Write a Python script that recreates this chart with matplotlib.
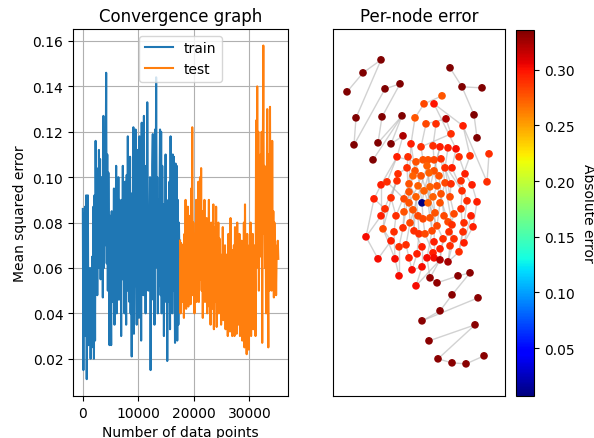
import numpy as np
import matplotlib
matplotlib.use("Agg")
import matplotlib.pyplot as plt
from matplotlib.collections import LineCollection

# Convergence data: one MSE value every 100 data points
train_step = 100
train_mse = [
    0.086, 0.015, 0.084, 0.045, 0.087, 0.030, 0.092, 0.011, 0.060, 0.092,
    0.026, 0.055, 0.040, 0.060, 0.020, 0.050, 0.025, 0.065, 0.035, 0.087,
    0.020, 0.092, 0.028, 0.116, 0.070, 0.104, 0.048, 0.097, 0.060, 0.112,
    0.070, 0.108, 0.055, 0.100, 0.072, 0.094, 0.047, 0.127, 0.060, 0.112,
    0.070, 0.090, 0.146, 0.062, 0.110, 0.050, 0.102, 0.070, 0.026, 0.083,
    0.060, 0.026, 0.085, 0.045, 0.075, 0.060, 0.095, 0.035, 0.083, 0.070,
    0.105, 0.040, 0.098, 0.055, 0.100, 0.046, 0.090, 0.063, 0.085, 0.030,
    0.090, 0.055, 0.105, 0.060, 0.083, 0.040, 0.098, 0.065, 0.035, 0.101,
    0.050, 0.118, 0.060, 0.088, 0.045, 0.109, 0.040, 0.068, 0.021, 0.093,
    0.055, 0.122, 0.031, 0.105, 0.052, 0.121, 0.070, 0.035, 0.112, 0.060,
    0.090, 0.038, 0.118, 0.055, 0.095, 0.028, 0.124, 0.065, 0.100, 0.048,
    0.127, 0.055, 0.090, 0.040, 0.105, 0.062, 0.133, 0.085, 0.050, 0.080,
    0.060, 0.100, 0.015, 0.080, 0.046, 0.105, 0.119, 0.060, 0.095, 0.035,
    0.121, 0.060, 0.144, 0.075, 0.100, 0.040, 0.090, 0.052, 0.085, 0.121,
    0.048, 0.120, 0.040, 0.105, 0.062, 0.088, 0.030, 0.080, 0.055, 0.110,
    0.045, 0.085, 0.019, 0.070, 0.090, 0.045, 0.098, 0.033, 0.118, 0.060,
    0.095, 0.040, 0.110, 0.050, 0.109, 0.065, 0.027, 0.106, 0.045, 0.105,
    0.028, 0.090, 0.035, 0.080, 0.065, 0.072,
]
test_mse = [
    0.072, 0.040, 0.071, 0.052, 0.070,
    0.045, 0.066, 0.038, 0.075, 0.050, 0.090, 0.042, 0.080, 0.060, 0.087,
    0.043, 0.083, 0.050, 0.078, 0.044, 0.095, 0.055, 0.122, 0.048, 0.080,
    0.060, 0.040, 0.075, 0.050, 0.090, 0.045, 0.085, 0.055, 0.098, 0.045,
    0.070, 0.100, 0.055, 0.104, 0.050, 0.085, 0.038, 0.075, 0.060, 0.090,
    0.045, 0.070, 0.052, 0.082, 0.040, 0.076, 0.060, 0.090, 0.043, 0.065,
    0.035, 0.080, 0.050, 0.072, 0.042, 0.088, 0.033, 0.060, 0.078, 0.045,
    0.087, 0.034, 0.070, 0.055, 0.080, 0.040, 0.073, 0.050, 0.066, 0.035,
    0.062, 0.045, 0.078, 0.037, 0.060, 0.048, 0.070, 0.033, 0.058, 0.042,
    0.066, 0.030, 0.075, 0.045, 0.060, 0.032, 0.082, 0.040, 0.068, 0.030,
    0.055, 0.038, 0.070, 0.030, 0.078, 0.045, 0.062, 0.031, 0.080, 0.040,
    0.065, 0.035, 0.075, 0.030, 0.058, 0.042, 0.072, 0.028, 0.060, 0.038,
    0.080, 0.025, 0.088, 0.045, 0.060, 0.022, 0.075, 0.030, 0.055, 0.024,
    0.070, 0.040, 0.080, 0.030, 0.065, 0.050, 0.075, 0.033, 0.062, 0.045,
    0.070, 0.030, 0.125, 0.060, 0.140, 0.070, 0.120, 0.050, 0.095, 0.065,
    0.110, 0.070, 0.120, 0.027, 0.100, 0.158, 0.075, 0.105, 0.060, 0.090,
    0.040, 0.085, 0.130, 0.065, 0.025, 0.110, 0.050, 0.131, 0.060, 0.095,
    0.050, 0.116, 0.055, 0.085, 0.047, 0.080, 0.060, 0.070, 0.048, 0.066,
    0.065, 0.072, 0.064,
]

# Graph layout (layout units, y grows downward) and per-node absolute error
node_x = [381, 363, 347, 385, 400, 356, 382, 402, 354, 378, 391, 373, 403, 450, 462, 482, 474, 477, 446,
          442, 424, 434, 415, 426, 436, 463, 451, 489, 487, 411, 421, 433, 440, 448, 456, 397, 408, 459, 470,
          416, 423, 428, 434, 441, 407, 415, 427, 434, 445, 452, 465, 398, 413, 421, 429, 439, 397, 381, 387,
          409, 418, 430, 437, 445, 451, 461, 472, 409, 424, 441, 462, 374, 391, 404, 416, 433, 450, 422, 409,
          428, 440, 467, 477, 385, 381, 396, 404, 413, 418, 423, 430, 435, 444, 454, 461, 471, 410, 437, 448,
          452, 464, 473, 383, 403, 394, 414, 419, 425, 432, 449, 463, 366, 391, 434, 443, 454, 464, 399, 406,
          422, 440, 450, 459, 417, 433, 378, 395, 409, 427, 434, 440, 448, 412, 422, 399, 416, 430, 437, 458,
          470, 452, 478, 440, 422, 475, 429, 438, 452, 466, 484]
node_y = [61, 74, 93, 90, 85, 119, 118, 117, 146, 144, 145, 161, 137, 69, 88, 89, 116, 139, 120,
          97, 105, 105, 119, 125, 125, 127, 135, 155, 183, 145, 148, 147, 148, 149, 150, 158, 158, 158, 157,
          163, 161, 161, 161, 160, 169, 172, 167, 172, 169, 169, 175, 175, 177, 177, 174, 177, 182, 186, 183,
          185, 187, 188, 187, 184, 185, 182, 186, 193, 192, 195, 192, 200, 199, 200, 198, 198, 198, 204, 204,
          204, 204, 202, 203, 210, 217, 217, 213, 211, 217, 220, 219, 214, 217, 215, 210, 217, 224, 227, 223,
          226, 224, 228, 230, 229, 233, 232, 235, 235, 232, 233, 233, 238, 242, 243, 240, 240, 244, 248, 246,
          248, 250, 247, 253, 255, 254, 260, 260, 259, 259, 259, 261, 263, 271, 268, 277, 287, 279, 284, 277,
          274, 296, 299, 312, 322, 326, 342, 360, 364, 365, 357]
node_error = [0.336, 0.336, 0.336, 0.336, 0.336, 0.336, 0.336, 0.336, 0.336, 0.336, 0.336, 0.336, 0.322,
              0.336, 0.336, 0.336, 0.336, 0.336, 0.322,
              0.276, 0.282, 0.300, 0.276, 0.282, 0.290, 0.296, 0.290, 0.290, 0.290, 0.296, 0.290, 0.290,
              0.296, 0.296, 0.302, 0.296, 0.290, 0.290, 0.290,
              0.277, 0.277, 0.277, 0.282, 0.290, 0.290, 0.277, 0.272, 0.277, 0.290, 0.296, 0.296, 0.290,
              0.272, 0.277, 0.272, 0.277, 0.290, 0.296, 0.290, 0.277, 0.272, 0.272, 0.277, 0.282, 0.290,
              0.290, 0.296, 0.277, 0.272, 0.277, 0.290, 0.296, 0.290, 0.282, 0.272, 0.272, 0.282, 0.007,
              0.277, 0.272, 0.277, 0.290, 0.296, 0.290, 0.296, 0.290, 0.277, 0.277, 0.282, 0.282, 0.277,
              0.277, 0.282, 0.282, 0.290, 0.296, 0.282, 0.282, 0.282, 0.290, 0.290, 0.296, 0.282, 0.290,
              0.290, 0.290, 0.290, 0.282, 0.282, 0.290, 0.290, 0.302, 0.296, 0.296, 0.290, 0.290, 0.296,
              0.290, 0.290, 0.296, 0.296, 0.290, 0.290, 0.296, 0.296, 0.302, 0.302, 0.296, 0.302, 0.302,
              0.322, 0.325, 0.302, 0.302, 0.302, 0.302, 0.330, 0.330, 0.333, 0.333, 0.333, 0.333, 0.333,
              0.333, 0.333, 0.333, 0.333, 0.333, 0.333, 0.333]

# Edges as pairs of node ids (ids start at 1)
edges = [
    (1, 2), (2, 3), (1, 6), (6, 9), (9, 4), (4, 5), (5, 7), (7, 10), (8, 12), (8, 11), (8, 10),
    (11, 13), (13, 36), (14, 15), (15, 16), (15, 17), (17, 18), (20, 21), (21, 23), (22, 26),
    (22, 35), (19, 24), (26, 29), (26, 39), (28, 29), (27, 19), (27, 31), (23, 30), (24, 31), (25, 32),
    (36, 40), (36, 59), (37, 45), (30, 46), (31, 41), (32, 43), (33, 48), (34, 49), (35, 50), (38, 51),
    (39, 66), (40, 53), (41, 47), (42, 55), (43, 56), (44, 64), (45, 52), (46, 60), (47, 62), (48, 63),
    (49, 65), (50, 71), (51, 67), (52, 57), (53, 68), (54, 61), (55, 69), (56, 70), (57, 73), (58, 72),
    (59, 74), (60, 75), (61, 79), (62, 80), (63, 76), (64, 81), (65, 77), (66, 82), (67, 83), (68, 88),
    (69, 78), (70, 93), (71, 95), (72, 84), (73, 86), (74, 87), (75, 89), (76, 92), (77, 94), (78, 90),
    (79, 97), (80, 91), (81, 98), (82, 101), (83, 102), (84, 103), (85, 112), (86, 105), (87, 104),
    (88, 106), (89, 107), (90, 108), (91, 109), (92, 114), (93, 99), (94, 110), (95, 111), (96, 117),
    (97, 119), (98, 115), (99, 116), (100, 122), (101, 123), (102, 117), (103, 113), (104, 118),
    (105, 127), (106, 120), (107, 124), (108, 125), (109, 129), (110, 121), (111, 123), (112, 126),
    (113, 126), (114, 130), (115, 131), (116, 132), (118, 135), (119, 128), (120, 134), (121, 131),
    (122, 132), (124, 133), (125, 130), (127, 135), (128, 133), (129, 137), (134, 136),
    (58, 85), (72, 112), (57, 85), (52, 103), (36, 58), (40, 78), (30, 60), (45, 79), (44, 71),
    (49, 77), (64, 100), (33, 62), (42, 80), (60, 86), (75, 106), (69, 98), (54, 92), (47, 97),
    (63, 99), (62, 109), (68, 104), (103, 127), (133, 134),
    (137, 131), (137, 138), (138, 139), (139, 140), (140, 141), (141, 143), (143, 144), (144, 142),
    (136, 131), (132, 123), (146, 145), (145, 147), (147, 148), (148, 149), (149, 150),
]

fig = plt.figure(figsize=(5.94, 4.39), dpi=100)

# Left: convergence graph
ax1 = fig.add_axes([0.123, 0.096, 0.362, 0.836])
train_x = np.arange(len(train_mse)) * train_step
test_x = train_x[-1] + np.arange(len(test_mse)) * train_step
ax1.plot(train_x, train_mse, color='#1f77b4', label='train')
ax1.plot(test_x, test_mse, color='#ff7f0e', label='test')
ax1.set_title('Convergence graph')
ax1.set_xlabel('Number of data points')
ax1.set_ylabel('Mean squared error')
ax1.set_xticks([0, 10000, 20000, 30000])
ax1.set_yticks([0.02, 0.04, 0.06, 0.08, 0.10, 0.12, 0.14, 0.16])
ax1.grid(True)
ax1.legend(loc='upper center')

# Right: per-node error on the graph
ax2 = fig.add_axes([0.5606, 0.096, 0.2896, 0.836])
segs = [[(node_x[a - 1], node_y[a - 1]), (node_x[b - 1], node_y[b - 1])] for a, b in edges]
ax2.add_collection(LineCollection(segs, colors='#b4b4b4', linewidths=1.0, alpha=0.6, zorder=1))
sc = ax2.scatter(node_x, node_y, c=node_error, cmap='jet', vmin=0.007, vmax=0.336, s=20, zorder=2)
ax2.set_xlim(333, 505)
ax2.set_ylim(397, 30)
ax2.set_xticks([])
ax2.set_yticks([])
ax2.set_title('Per-node error')

cax = fig.add_axes([0.8687, 0.096, 0.0303, 0.834])
cb = fig.colorbar(sc, cax=cax)
cb.set_ticks([0.05, 0.10, 0.15, 0.20, 0.25, 0.30])
cb.set_label('Absolute error', rotation=270, labelpad=15)

plt.savefig('out.png', dpi=100)
plt.close()
